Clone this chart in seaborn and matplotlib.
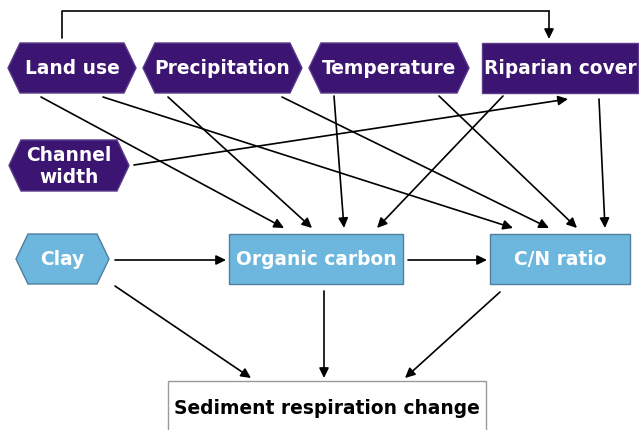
"""
Path diagram: drivers of sediment respiration change.
"""

import matplotlib.pyplot as plt
from matplotlib.patches import Polygon, Rectangle
import seaborn as sns

# node layout (pixel space, y downwards)
node_names = ["Land use", "Precipitation", "Temperature", "Riparian cover",
              "Channel\nwidth", "Clay", "Organic carbon", "C/N ratio",
              "Sediment respiration change"]
node_x0 = [8, 143, 309, 482, 9, 16, 229, 490, 168]
node_x1 = [136, 302, 469, 638, 129, 109, 403, 630, 486]
node_y0 = [44, 44, 44, 44, 141, 235, 235, 235, 382]
node_y1 = [94, 94, 94, 94, 192, 285, 285, 285, 445]
node_shape = ["hex", "hex", "hex", "rect", "hex", "hex", "rect", "rect", "rect"]
node_kind = ["driver", "driver", "driver", "driver", "driver",
             "soil", "soil", "soil", "response"]

# arrows: (x_start, y_start, x_end, y_end)
edge_x0 = [41, 103, 168, 282, 334, 439, 503, 599, 134, 115, 408, 115, 324, 500]
edge_y0 = [98, 98, 98, 98, 97, 97, 97, 100, 166, 261, 261, 287, 292, 293]
edge_x1 = [284, 513, 312, 549, 344, 577, 377, 605, 568, 226, 487, 251, 324, 405]
edge_y1 = [229, 229, 229, 229, 229, 229, 229, 229, 100, 261, 261, 379, 379, 379]

# elbow connector Land use -> Riparian cover
elbow_x = [62, 62, 549, 549]
elbow_y = [39, 12, 12, 40]

fill = {"driver": "#3b1571", "soil": "#6db7df", "response": "white"}
edge = {"driver": "#5a3a8a", "soil": "#4f7f9c", "response": "#9a9a9a"}
text_col = {"driver": "white", "soil": "white", "response": "black"}

sns.set_theme(style="white")
plt.rcParams["font.family"] = ["DejaVu Sans"]

fig = plt.figure(figsize=(6.39, 4.31), dpi=100)
ax = fig.add_axes([0, 0, 1, 1])
ax.set_xlim(0, 639)
ax.set_ylim(431, 0)
ax.axis("off")

cut = 12
for name, x0, x1, y0, y1, shp, kind in zip(node_names, node_x0, node_x1, node_y0,
                                          node_y1, node_shape, node_kind):
    ym = (y0 + y1) / 2
    if shp == "hex":
        pts = [(x0, ym), (x0 + cut, y0), (x1 - cut, y0), (x1, ym),
               (x1 - cut, y1), (x0 + cut, y1)]
        patch = Polygon(pts, closed=True, fc=fill[kind], ec=edge[kind], lw=1)
    else:
        patch = Rectangle((x0, y0), x1 - x0, y1 - y0, fc=fill[kind],
                          ec=edge[kind], lw=1)
    ax.add_patch(patch)
    ty = ym if kind != "response" else 409
    ax.text((x0 + x1) / 2, ty, name, ha="center", va="center",
            color=text_col[kind], fontsize=13.4, fontweight="bold",
            linespacing=1.25)

arrow = dict(arrowstyle="-|>,head_length=0.45,head_width=0.22", color="black",
             lw=1.2, mutation_scale=13, shrinkA=0, shrinkB=0)
ax.plot(elbow_x[:3], elbow_y[:3], color="black", lw=1.2)
ax.annotate("", xy=(elbow_x[3], elbow_y[3]), xytext=(elbow_x[2], elbow_y[2]),
            arrowprops=arrow)

for xs, ys, xe, ye in zip(edge_x0, edge_y0, edge_x1, edge_y1):
    ax.annotate("", xy=(xe, ye), xytext=(xs, ys), arrowprops=arrow)

fig.savefig("out.png", dpi=100)
plt.close(fig)
